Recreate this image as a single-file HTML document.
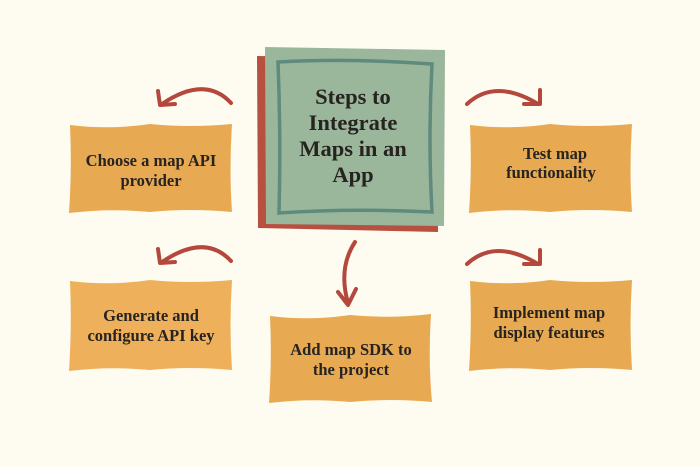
<!DOCTYPE html>
<html><head><meta charset="utf-8"><style>
html,body{margin:0;padding:0;background:#fefbf1;}
svg{display:block}
text{font-family:"Liberation Serif",serif;font-weight:bold;fill:#262320;text-anchor:middle}
</style></head><body>
<svg width="700" height="467" viewBox="0 0 700 467" xmlns="http://www.w3.org/2000/svg">
<rect width="700" height="467" fill="#fefbf1"/>
<path d="M257 56 L437 58 L438 232 L258 228 Z" fill="#b85042"/>
<path d="M265 47 L445 50 L444 226 L266 224 Z" fill="#9bb79b"/>
<path d="M278 62 Q350 58 432 64 Q428 140 432 212 Q350 208 279 213 Q281 140 278 62 Z" fill="none" stroke="#5f8a7e" stroke-width="3.5"/>
<text font-size="22.5" x="353" y="104">Steps to</text>
<text font-size="22.5" x="353" y="130">Integrate</text>
<text font-size="22.5" x="353" y="156">Maps in an</text>
<text font-size="22.5" x="353" y="182">App</text>
<g fill="#e8a953">
<path d="M70 125 Q110 130 150 124 Q190 128 232 124 Q229 170 232 212 Q190 208 150 212 Q110 208 69 213 Q72 170 70 125 Z"/>
<path d="M70 281 Q110 286 150 280 Q190 284 232 280 Q229 325 232 370 Q190 366 150 370 Q110 366 69 371 Q72 325 70 281 Z" fill="#efb05c"/>
<path d="M270 316 Q310 321 350 315 Q390 319 431 314 Q428 360 432 402 Q390 398 350 402 Q310 398 269 403 Q272 360 270 316 Z"/>
<path d="M470 125 Q510 130 550 124 Q590 128 632 124 Q629 170 632 212 Q590 208 550 212 Q510 208 469 213 Q472 170 470 125 Z"/>
<path d="M470 281 Q510 286 550 280 Q590 284 632 280 Q629 325 632 370 Q590 366 550 370 Q510 366 469 371 Q472 325 470 281 Z"/>
</g>
<text font-size="16.5" x="151" y="166">Choose a map API</text>
<text font-size="16.5" x="151" y="186">provider</text>
<text font-size="16.5" x="151" y="321">Generate and</text>
<text font-size="16.5" x="151" y="341">configure API key</text>
<text font-size="16.5" x="351" y="355">Add map SDK to</text>
<text font-size="16.5" x="351" y="375">the project</text>
<text font-size="16.5" x="555" y="159">Test map</text>
<text font-size="16.5" x="551" y="178">functionality</text>
<text font-size="16.5" x="549" y="318">Implement map</text>
<text font-size="16.5" x="549" y="338">display features</text>
<g fill="none" stroke="#b5483d" stroke-width="4" stroke-linecap="round" stroke-linejoin="round">
<path d="M231 103 Q205 75 162 104"/><path d="M158 91 L160 105 L175 104"/>
<path d="M231 261 Q205 233 162 262"/><path d="M158 249 L160 263 L175 262"/>
<path d="M467 104 Q495 78 538 104"/><path d="M540 90 L540 104 L524 104"/>
<path d="M467 264 Q495 238 538 264"/><path d="M540 250 L540 264 L524 264"/>
<path d="M355 242 Q338 268 348 303"/><path d="M338 292 L348 305 L356 289"/>
</g>
</svg>
</body></html>
